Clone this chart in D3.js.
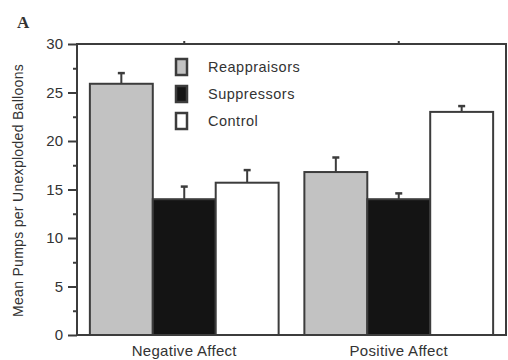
<!DOCTYPE html>
<html>
<head>
<meta charset="utf-8">
<script src="https://cdn.jsdelivr.net/npm/d3@7"></script>
<style>
  html, body { margin: 0; padding: 0; background: #fff; }
  svg { display: block; }
  text { font-family: Arial, "Liberation Sans", sans-serif; fill: #333; }
</style>
</head>
<body>
<svg id="chart" width="508" height="360"></svg>
<script>
// Mean pumps per unexploded balloon, by affect condition and group
const categories = ["Negative Affect", "Positive Affect"];
const groups = ["Reappraisors", "Suppressors", "Control"];
const reappraisorMeans = [25.9, 16.8];
const suppressorMeans = [14.0, 14.0];
const controlMeans = [15.7, 23.0];
const reappraisorErr = [1.1, 1.5];
const suppressorErr = [1.3, 0.6];
const controlErr = [1.3, 0.6];
const yTicks = [0, 5, 10, 15, 20, 25, 30];
const yMinorTicks = [2.5, 7.5, 12.5, 17.5, 22.5, 27.5];

const groupFill = { Reappraisors: "#c2c2c2", Suppressors: "#141414", Control: "#ffffff" };
const means = { Reappraisors: reappraisorMeans, Suppressors: suppressorMeans, Control: controlMeans };
const errs = { Reappraisors: reappraisorErr, Suppressors: suppressorErr, Control: controlErr };

const svg = d3.select("#chart");
const plotLeft = 77, plotRight = 506, plotTop = 44, plotBottom = 335;
const ink = "#3c3c3c";
const sans = "Arial, 'Liberation Sans', sans-serif";

const x0 = d3.scaleBand().domain(categories).range([plotLeft, plotRight])
  .paddingInner(0.12).paddingOuter(0.06);
const x1 = d3.scaleBand().domain(groups).range([0, x0.bandwidth()]);
const y = d3.scaleLinear().domain([0, 30]).range([plotBottom, plotTop]);

// bars with upward error whiskers
const rows = [];
categories.forEach((c, i) => groups.forEach(g => rows.push({ c, g, v: means[g][i], e: errs[g][i] })));

const bars = svg.append("g");
rows.forEach(d => {
  const bx = x0(d.c) + x1(d.g);
  const cx = bx + x1.bandwidth() / 2;
  bars.append("line")
    .attr("x1", cx).attr("x2", cx)
    .attr("y1", y(d.v)).attr("y2", y(d.v + d.e))
    .attr("stroke", ink).attr("stroke-width", 2);
  bars.append("line")
    .attr("x1", cx - 3.5).attr("x2", cx + 3.5)
    .attr("y1", y(d.v + d.e)).attr("y2", y(d.v + d.e))
    .attr("stroke", ink).attr("stroke-width", 2.5);
  bars.append("rect")
    .attr("x", bx).attr("y", y(d.v))
    .attr("width", x1.bandwidth()).attr("height", y(0) - y(d.v))
    .attr("fill", groupFill[d.g]).attr("stroke", ink).attr("stroke-width", 2);
});

// frame
svg.append("rect")
  .attr("x", plotLeft).attr("y", plotTop)
  .attr("width", plotRight - plotLeft).attr("height", plotBottom - plotTop)
  .attr("fill", "none").attr("stroke", ink).attr("stroke-width", 2);

// left axis
const yAxis = d3.axisLeft(y).tickValues(yTicks).tickSize(9).tickPadding(5);
const ya = svg.append("g").attr("transform", `translate(${plotLeft},0)`).call(yAxis);
ya.select(".domain").remove();
ya.selectAll(".tick line").attr("stroke", ink).attr("stroke-width", 2);
ya.selectAll(".tick text").style("font-size", "15px").attr("fill", "#333")
  .style("font-family", sans);

const yMinor = d3.axisLeft(y).tickValues(yMinorTicks).tickSize(4).tickFormat("");
const ym = svg.append("g").attr("transform", `translate(${plotLeft},0)`).call(yMinor);
ym.select(".domain").remove();
ym.selectAll(".tick line").attr("stroke", ink).attr("stroke-width", 2);

// category marks on the top edge
const topAxis = d3.axisTop(x0).tickSize(3).tickFormat("");
const ta = svg.append("g").attr("transform", `translate(0,${plotTop})`).call(topAxis);
ta.select(".domain").remove();
ta.selectAll(".tick line").attr("stroke", ink).attr("stroke-width", 2);

// category labels below the baseline
const xAxis = d3.axisBottom(x0).tickSize(0).tickPadding(10);
const xa = svg.append("g").attr("transform", `translate(0,${plotBottom})`).call(xAxis);
xa.select(".domain").remove();
xa.selectAll(".tick text").style("font-size", "15px").attr("fill", "#333")
  .style("letter-spacing", "0.3px")
  .style("font-family", sans);

// y axis title
svg.append("text")
  .attr("transform", `translate(23,${(plotTop + plotBottom) / 2 + 1}) rotate(-90)`)
  .attr("text-anchor", "middle")
  .style("font-size", "14px")
  .style("letter-spacing", "0.3px")
  .text("Mean Pumps per Unexploded Balloons");

// panel letter
svg.append("text")
  .attr("x", 17).attr("y", 28)
  .style("font-family", "'Liberation Serif', 'Times New Roman', serif")
  .style("font-weight", "bold").style("font-size", "17px")
  .attr("fill", "#111")
  .text("A");

// legend
const legend = svg.append("g").attr("transform", "translate(176,59)");
groups.forEach((g, i) => {
  const row = legend.append("g").attr("transform", `translate(0,${i * 27})`);
  row.append("rect").attr("x", 0).attr("y", 0).attr("width", 11).attr("height", 16)
    .attr("fill", groupFill[g]).attr("stroke", ink).attr("stroke-width", 2.5);
  row.append("text").attr("x", 32).attr("y", 12.5)
    .style("font-size", "14.5px").style("letter-spacing", "0.5px")
    .text(g);
});
</script>
</body>
</html>
